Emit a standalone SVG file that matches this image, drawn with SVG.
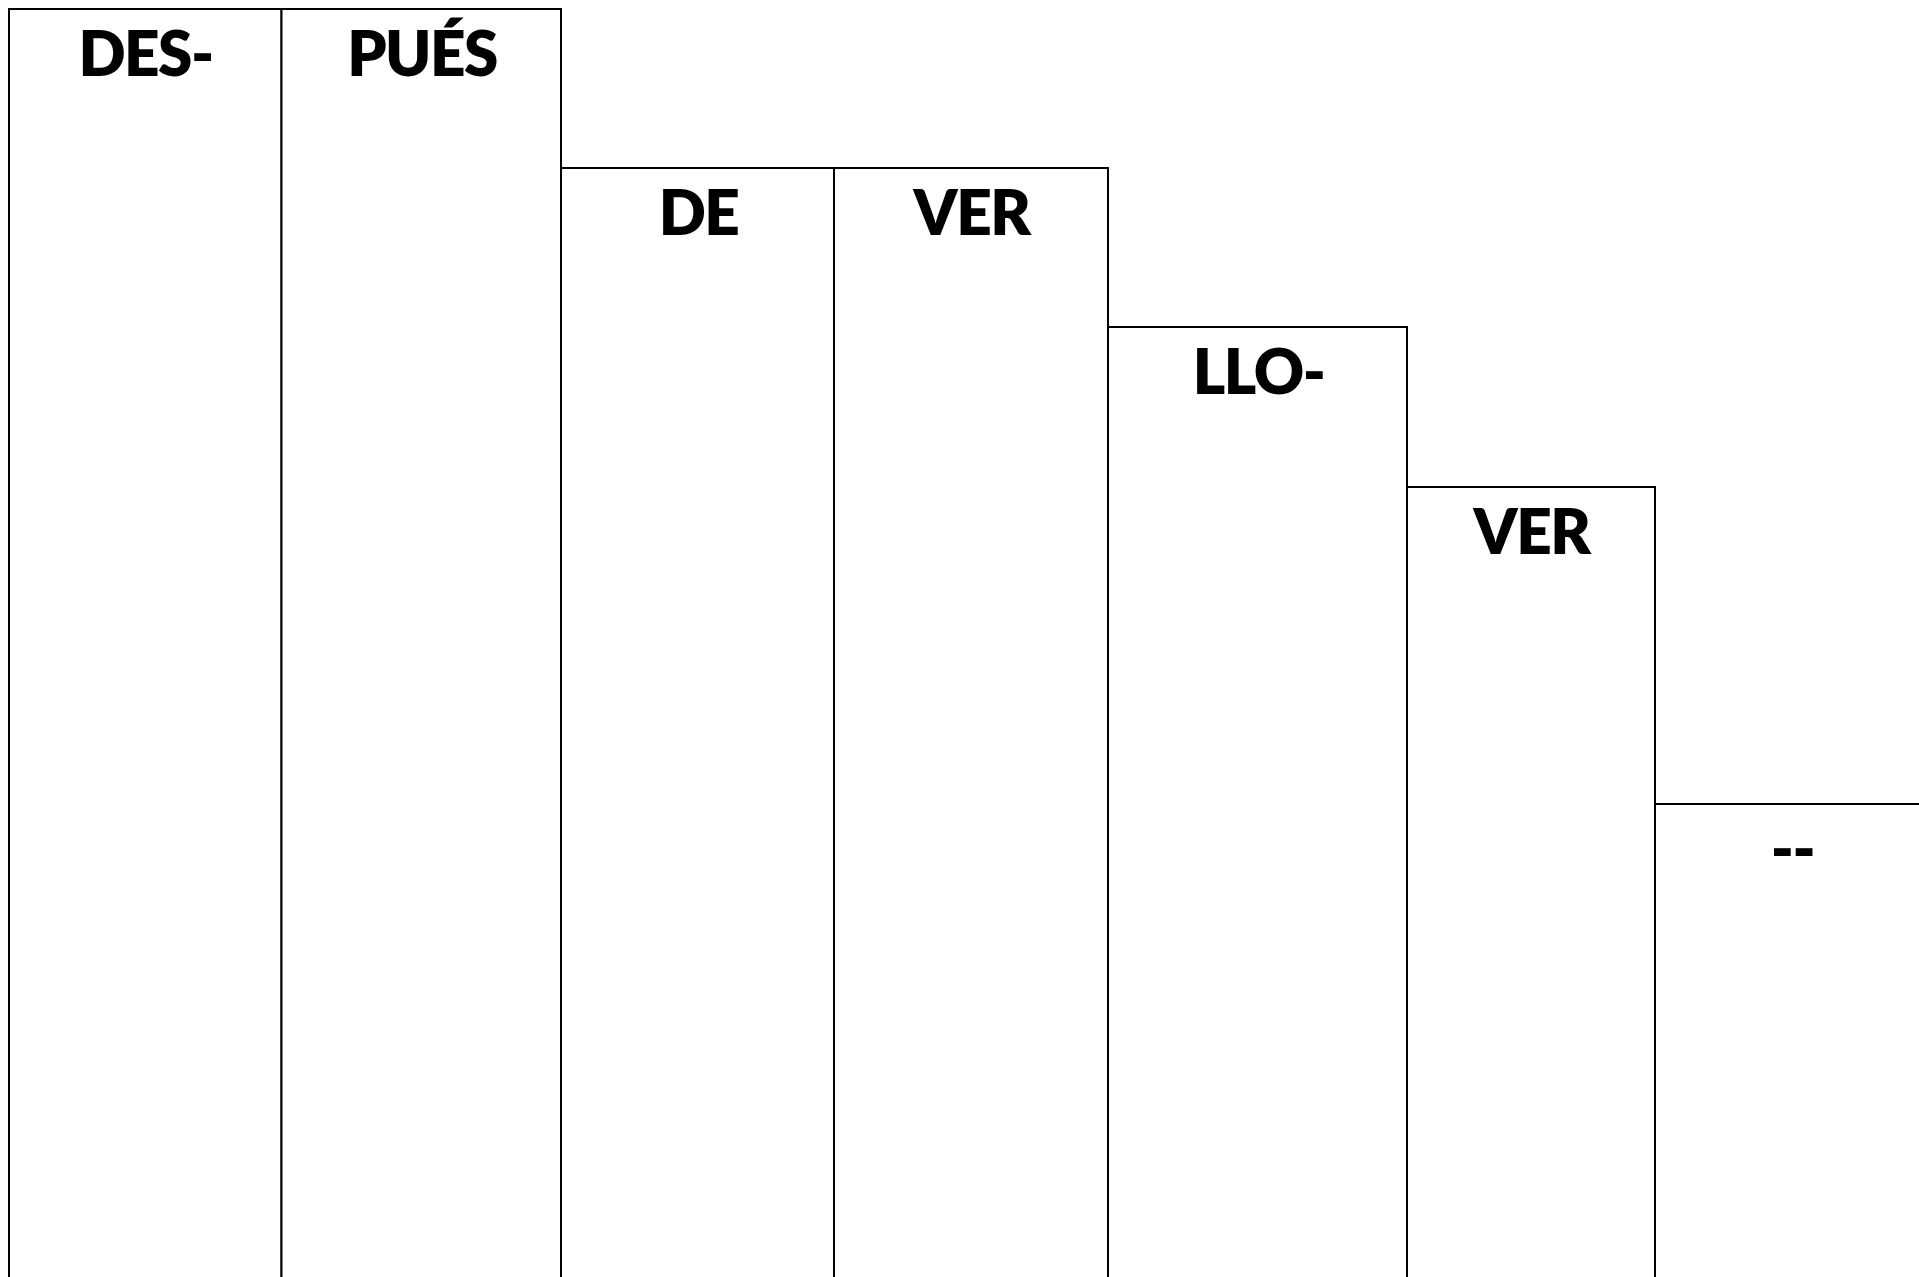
<svg xmlns="http://www.w3.org/2000/svg" width="1919" height="1277" viewBox="0 0 1919 1277">
<style>
.cell{fill:#fff;stroke:#000;stroke-width:2}
.lbl{font-family:Lato,"Open Sans","Liberation Sans",sans-serif;font-weight:800;font-size:62px;letter-spacing:-1.5px;fill:#000;text-anchor:middle}
</style>
<rect width="1919" height="1277" fill="#fff"/>
<g id="n1"><rect class="cell" x="9" y="9" width="272.5" height="1290"/><text class="lbl" x="145.5" y="76">DES-</text></g>
<g id="n2"><rect class="cell" x="281.5" y="9" width="279.5" height="1290"/><text class="lbl" x="422" y="76">PUÉS</text></g>
<g id="n3"><rect class="cell" x="561" y="168" width="273" height="1130"/><text class="lbl" x="698.5" y="235">DE</text></g>
<g id="n4"><rect class="cell" x="834" y="168" width="274" height="1130"/><text class="lbl" x="971.5" y="235">VER</text></g>
<g id="n5"><rect class="cell" x="1108" y="327" width="299" height="980"/><text class="lbl" x="1258.5" y="394">LLO-</text></g>
<g id="n6"><rect class="cell" x="1407" y="487" width="248" height="820"/><text class="lbl" x="1531.5" y="554">VER</text></g>
<g id="n7"><rect class="cell" x="1655" y="804" width="300" height="500"/><text class="lbl" x="1792.5" y="871">--</text></g>
<g id="connectors"></g>
</svg>
